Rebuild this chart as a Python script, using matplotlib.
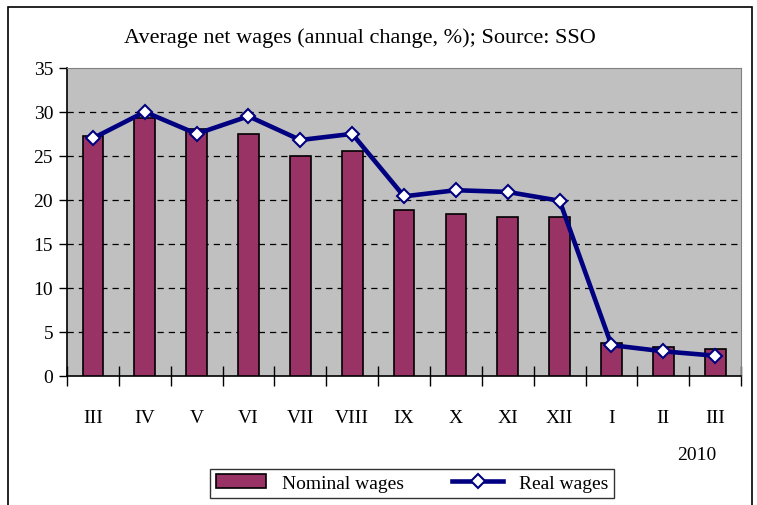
import numpy as np
import matplotlib.pyplot as plt
from matplotlib.patches import Rectangle
from matplotlib.lines import Line2D

months = ['III', 'IV', 'V', 'VI', 'VII', 'VIII', 'IX', 'X', 'XI', 'XII', 'I', 'II', 'III']
nominal = [27.3, 29.3, 28.0, 27.5, 25.0, 25.6, 18.8, 18.4, 18.1, 18.1, 3.8, 3.3, 3.1]
real = [27.0, 30.0, 27.5, 29.5, 26.8, 27.5, 20.4, 21.1, 20.9, 19.9, 3.5, 2.8, 2.3]

plt.rcParams['font.family'] = ['Liberation Serif', 'DejaVu Serif']

fig = plt.figure(figsize=(7.57, 5.06), dpi=100)
ax = fig.add_axes([0.0885, 0.255, 0.8905, 0.609])
ax.set_facecolor('#C0C0C0')

x = np.arange(len(months))
ax.bar(x, nominal, width=0.4, color='#993366', edgecolor='black', linewidth=1.2, zorder=3)
ax.plot(x, real, color='#000080', linewidth=3.3, marker='D', markersize=7,
        markerfacecolor='white', markeredgecolor='#000080', markeredgewidth=1.5, zorder=4)

ax.set_xlim(-0.5, len(months) - 0.5)
ax.set_ylim(0, 35)
ax.set_yticks(range(0, 36, 5))
for v in range(5, 35, 5):
    ax.axhline(v, color='black', linestyle=(0, (5, 4)), linewidth=0.9, zorder=1)

# ticks between categories, labels centred on the bars
ax.set_xticks(np.arange(-0.5, len(months), 1))
ax.set_xticklabels([])
ax.tick_params(axis='x', direction='inout', length=14, width=1)
ax.set_xticks(x, minor=True)
ax.set_xticklabels(months, minor=True, fontsize=14)
ax.tick_params(axis='x', which='minor', length=0, pad=24)
ax.tick_params(axis='y', direction='out', length=6, width=1, labelsize=14, pad=4)

ax.spines['top'].set_color('#808080')
ax.spines['right'].set_color('#808080')
ax.spines['left'].set_linewidth(1.2)
ax.spines['bottom'].set_linewidth(1.2)

fig.text(0.475, 0.925, 'Average net wages (annual change, %); Source: SSO', ha='center', va='center', fontsize=16)
fig.text(0.921, 0.10, '2010', ha='center', va='center', fontsize=14)

handles = [Rectangle((0, 0), 1, 1, facecolor='#993366', edgecolor='black', linewidth=1.2),
           Line2D([], [], color='#000080', linewidth=3.3, marker='D', markersize=7,
                  markerfacecolor='white', markeredgecolor='#000080', markeredgewidth=1.5)]
leg = fig.legend(handles, ['Nominal wages', 'Real wages'], loc='center', bbox_to_anchor=(0.544, 0.043),
                 ncol=2, frameon=True, fancybox=False, edgecolor='black', fontsize=14,
                 handlelength=2.6, columnspacing=2.5, borderpad=0.3)
leg.get_frame().set_linewidth(1)

fig.patches.append(Rectangle((0.011, -0.05), 0.982, 1.034, transform=fig.transFigure,
                             fill=False, edgecolor='black', linewidth=1.2))

fig.savefig('out.png', dpi=100)
